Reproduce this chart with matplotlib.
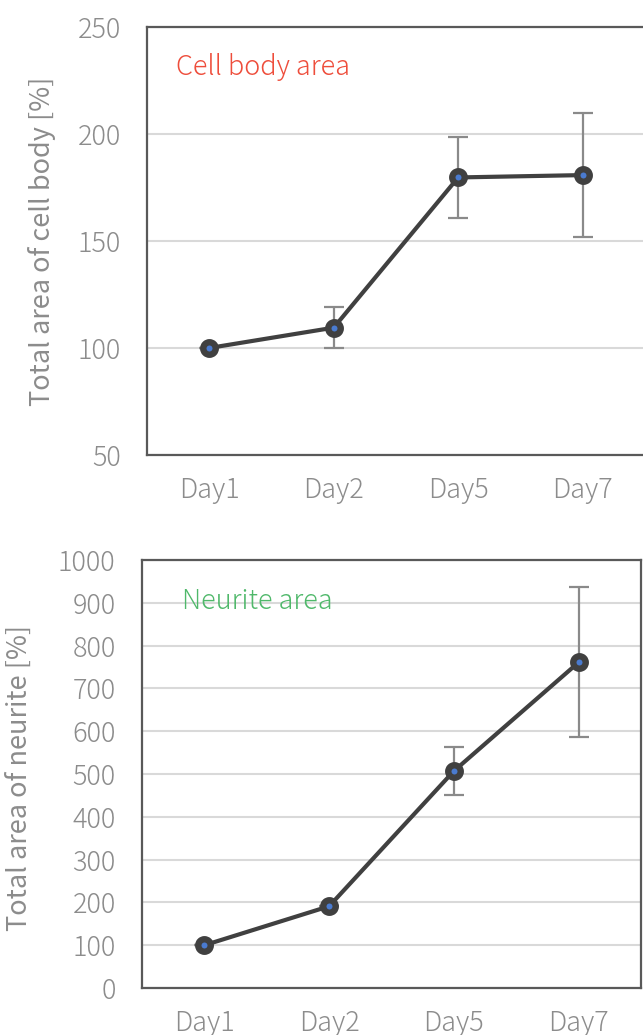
import matplotlib
matplotlib.use("Agg")
import matplotlib.pyplot as plt

days = ["Day1", "Day2", "Day5", "Day7"]

body_mean = [100.0, 109.5, 179.7, 180.8]
body_err = [0.0, 9.5, 19.0, 29.0]

neurite_mean = [100.0, 191.0, 507.0, 761.0]
neurite_err = [0.0, 0.0, 57.0, 175.0]

plt.rcParams["font.family"] = ["Noto Sans CJK JP", "DejaVu Sans"]
plt.rcParams["font.weight"] = "light"

TICK_GRAY = "#8c8c8c"
LINE_DARK = "#404040"
SPINE = "#595959"
FS = 19.5


def draw(ax, means, errs, ylim, yticks, ylabel, label, label_color, label_xy):
    x = list(range(len(days)))
    ax.errorbar(x, means, yerr=errs, fmt="none", ecolor="#8a8a8a",
                elinewidth=1.6, capsize=7, capthick=1.6, zorder=2)
    ax.plot(x, means, color=LINE_DARK, linewidth=3.0, zorder=3)
    # dark ring with a small blue centre
    ax.plot(x, means, linestyle="none", marker="o", markersize=9,
            markerfacecolor="#4a7bd0", markeredgecolor=LINE_DARK,
            markeredgewidth=4.6, zorder=4)
    ax.set_xlim(-0.5, len(days) - 0.5)
    ax.set_ylim(*ylim)
    ax.set_yticks(yticks)
    ax.set_xticks(x)
    ax.set_xticklabels(days)
    ax.grid(axis="y", color="#d9d9d9", linewidth=1.5)
    ax.set_axisbelow(True)
    for s in ax.spines.values():
        s.set_color(SPINE)
        s.set_linewidth(1.6)
    ax.tick_params(axis="both", length=0, labelsize=FS, labelcolor=TICK_GRAY)
    ax.tick_params(axis="y", pad=19)
    ax.tick_params(axis="x", pad=15)
    ax.set_ylabel(ylabel, fontsize=FS, color=TICK_GRAY)
    ax.text(label_xy[0], label_xy[1], label, transform=ax.transAxes,
            fontsize=FS, color=label_color, va="center", ha="left")


fig = plt.figure(figsize=(6.43, 10.35), dpi=100)
ax1 = fig.add_axes([0.2286, 0.5604, 0.7744, 0.4135])
ax2 = fig.add_axes([0.2208, 0.0454, 0.7761, 0.4135])

draw(ax1, body_mean, body_err, (50, 250), [50, 100, 150, 200, 250],
     "Total area of cell body [%]", "Cell body area", "#ee4d3b", (0.058, 0.906))
ax1.yaxis.set_label_coords(-0.183, 0.5)

draw(ax2, neurite_mean, neurite_err, (0, 1000), list(range(0, 1001, 100)),
     "Total area of neurite [%]", "Neurite area", "#4fb86a", (0.08, 0.905))
ax2.yaxis.set_label_coords(-0.218, 0.49)

fig.savefig("out.png", dpi=100)
